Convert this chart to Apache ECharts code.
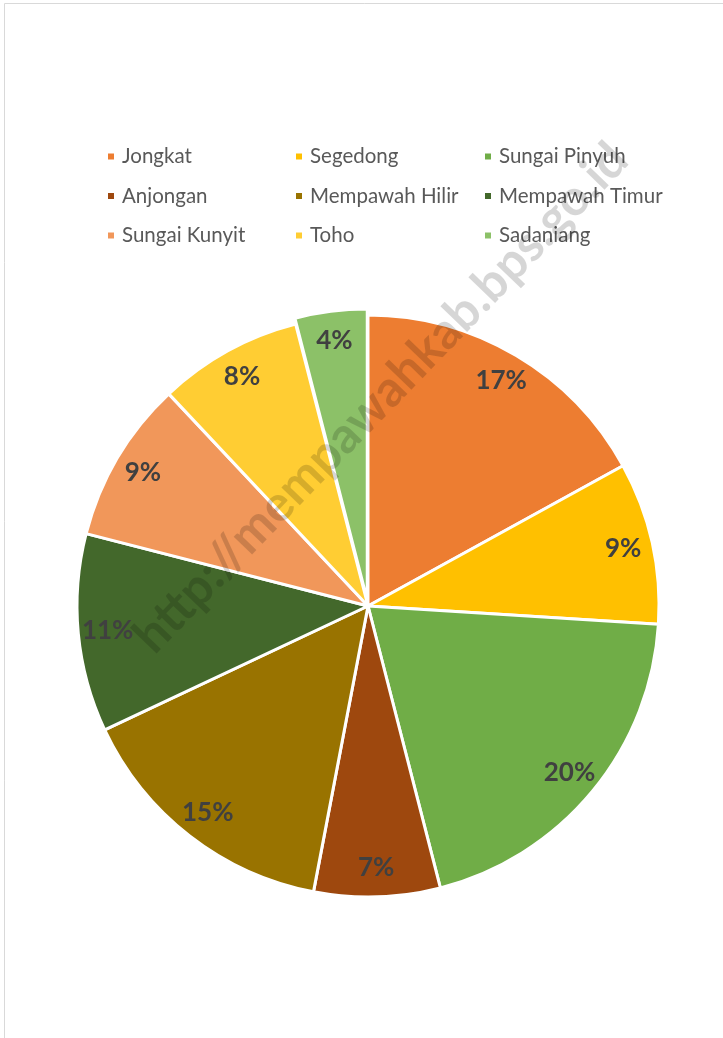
<!DOCTYPE html>
<html>
<head>
<meta charset="utf-8">
<script src="https://cdn.jsdelivr.net/npm/echarts@6/dist/echarts.min.js"></script>
<style>
  html, body { margin: 0; padding: 0; background: #fff; }
  #chart { width: 723px; height: 1038px; }
</style>
</head>
<body>
<div id="chart"></div>
<script>
// kecamatan and their share (%)
const districts = ['Jongkat', 'Segedong', 'Sungai Pinyuh', 'Anjongan', 'Mempawah Hilir',
  'Mempawah Timur', 'Sungai Kunyit', 'Toho', 'Sadaniang']
const shares = [17, 9, 20, 7, 15, 11, 9, 8, 4]
const exploded = ['Sadaniang']
const palette = ['#ED7D31', '#FFC000', '#70AD47', '#9E480E', '#997300',
  '#43682B', '#F1975A', '#FFCD33', '#8CC168']
const watermark = 'http://mempawahkab.bps.go.id'

const chart = echarts.init(document.getElementById('chart'), null, { renderer: 'canvas' })

const pieData = districts.map((name, i) => ({
  name, value: shares[i], selected: exploded.includes(name)
}))

const legendBase = {
  orient: 'vertical', top: 141, icon: 'rect',
  itemWidth: 8, itemHeight: 8, itemGap: 18.5,
  textStyle: { fontFamily: 'Lato', fontSize: 20.5, lineHeight: 20, color: '#595959', padding: [0, 0, 0, 2] }
}

chart.setOption({
  animation: false,
  color: palette,
  legend: [
    { ...legendBase, left: 101, data: [districts[0], districts[3], districts[6]] },
    { ...legendBase, left: 289, data: [districts[1], districts[4], districts[7]] },
    { ...legendBase, left: 478, data: [districts[2], districts[5], districts[8]] }
  ],
  graphic: [
    { type: 'rect', shape: { x: 4.5, y: 3.5, width: 740, height: 1060 },
      style: { fill: 'none', stroke: '#d9d9d9', lineWidth: 1 }, silent: true },
    { type: 'text', x: 381, y: 398, rotation: 46 * Math.PI / 180, z: 100, silent: true,
      style: { text: watermark, font: 'bold 50px Lato', fill: 'rgba(0,0,0,0.16)', align: 'center', verticalAlign: 'middle' } }
  ],
  series: [
    {
      type: 'pie', center: [368, 606], radius: [0, 291], startAngle: 90,
      selectedMode: 'single', selectedOffset: 6,
      data: pieData,
      itemStyle: { borderColor: '#fff', borderWidth: 3 },
      label: { show: false }, labelLine: { show: false },
      emphasis: { disabled: true }
    },
    {
      // transparent ring only used to place the percent labels near the rim
      type: 'pie', center: [368, 606], radius: [226, 291], startAngle: 90,
      selectedMode: 'single', selectedOffset: 6, silent: true,
      data: pieData,
      itemStyle: { color: 'transparent', borderWidth: 0 },
      select: { itemStyle: { color: 'transparent', borderWidth: 0 } },
      label: {
        show: true, position: 'inside', formatter: '{d}%',
        fontFamily: 'Lato', fontWeight: 'bold', fontSize: 26, color: '#404040'
      },
      labelLine: { show: false },
      emphasis: { disabled: true }
    }
  ]
})
</script>
</body>
</html>
